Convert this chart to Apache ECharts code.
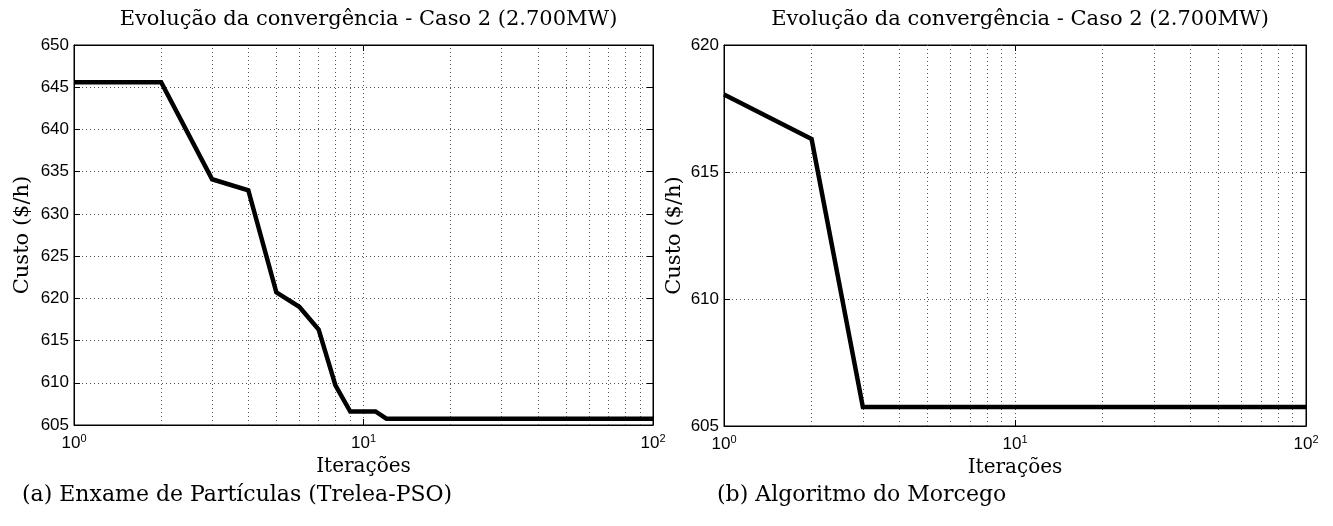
<!DOCTYPE html>
<html>
<head>
<meta charset="utf-8">
<script src="https://cdn.jsdelivr.net/npm/echarts@6/dist/echarts.min.js"></script>
<style>
  html, body { margin: 0; padding: 0; background: #fff; }
  #chart { width: 1333px; height: 526px; }
</style>
</head>
<body>
<div id="chart"></div>
<script>
// Convergence of cost per iteration (log-scaled iteration axis)
const chartTitle = 'Evolução da convergência - Caso 2 (2.700MW)';
const xName = 'Iterações';
const yName = 'Custo ($/h)';
const captions = ['(a) Enxame de Partículas (Trelea-PSO)', '(b) Algoritmo do Morcego'];

// (a) particle swarm: iteration numbers and best cost at each
const psoIter = [1, 2, 3, 4, 5, 6, 7, 8, 9, 10, 11, 12, 100];
const psoCost = [645.6, 645.6, 634.1, 632.8, 620.7, 619.0, 616.3, 609.7, 606.6, 606.6, 606.6, 605.75, 605.75];

// (b) bat algorithm
const batIter = [1, 2, 3, 100];
const batCost = [618.05, 616.3, 605.75, 605.75];

// y ranges of each panel
const yRanges = [[605, 650], [605, 620]];
const yStep = 5;

// minor decade positions for the dotted grid
const minorX = [2, 3, 4, 5, 6, 7, 8, 9, 20, 30, 40, 50, 60, 70, 80, 90];

const sansFont = 'Liberation Sans';
const serifFont = 'DejaVu Serif';

const grids = [
  { left: 74, top: 45, width: 579, height: 380 },
  { left: 724, top: 45, width: 582, height: 381 }
];
const captionX = [22, 717];

const dotted = { color: '#555', type: [1, 3], width: 1 };

function xAxes(i) {
  const common = {
    type: 'log', logBase: 10, min: 1, max: 100, gridIndex: i,
    axisLine: { show: true, lineStyle: { color: '#000', width: 1 } },
    axisTick: { show: true, inside: true, length: 6, lineStyle: { color: '#000' } },
    minorTick: { show: false },
    splitLine: { show: false }
  };
  return [
    Object.assign({}, common, {
      position: 'bottom',
      name: xName, nameLocation: 'middle', nameGap: 25,
      nameTextStyle: { fontFamily: serifFont, fontSize: 20, color: '#000' },
      splitLine: { show: true, lineStyle: dotted },
      axisLabel: {
        margin: 8,
        formatter: v => '10{s|' + Math.round(Math.log10(v)) + '}',
        fontFamily: sansFont, fontSize: 17, color: '#000',
        rich: { s: { fontFamily: sansFont, fontSize: 11, color: '#000', verticalAlign: 'top', padding: [0, 0, 10, 0] } }
      }
    }),
    Object.assign({}, common, { position: 'top', axisLabel: { show: false } })
  ];
}

function yAxes(i) {
  const common = {
    type: 'value', gridIndex: i, min: yRanges[i][0], max: yRanges[i][1], interval: yStep,
    axisLine: { show: true, lineStyle: { color: '#000', width: 1 } },
    axisTick: { show: true, inside: true, length: 6, lineStyle: { color: '#000' } },
    splitLine: { show: false }
  };
  return [
    Object.assign({}, common, {
      position: 'left',
      name: yName, nameLocation: 'middle', nameGap: i === 0 ? 41 : 39, nameRotate: 90,
      nameTextStyle: { fontFamily: serifFont, fontSize: 21, color: '#000' },
      splitLine: { show: true, lineStyle: dotted },
      axisLabel: { margin: 5, fontFamily: sansFont, fontSize: 17, color: '#000' }
    }),
    Object.assign({}, common, { position: 'right', axisLabel: { show: false } })
  ];
}

function lineSeries(i, xs, ys) {
  return {
    type: 'line', xAxisIndex: i * 2, yAxisIndex: i * 2,
    data: xs.map((x, k) => [x, ys[k]]),
    showSymbol: false, symbol: 'none',
    lineStyle: { color: '#000', width: 4.5, join: 'miter' },
    z: 5,
    markLine: {
      silent: true, symbol: 'none', animation: false,
      label: { show: false },
      lineStyle: dotted,
      data: minorX.map(v => ({ xAxis: v }))
    }
  };
}

const option = {
  animation: false,
  backgroundColor: '#fff',
  title: grids.map(g => ({
    text: chartTitle,
    left: g.left + g.width / 2, top: 4, textAlign: 'center',
    textStyle: { fontFamily: serifFont, fontSize: 21, fontWeight: 'normal', color: '#000' }
  })),
  grid: grids.map(g => Object.assign({ show: true, borderColor: '#000', borderWidth: 1, containLabel: false }, g)),
  xAxis: [...xAxes(0), ...xAxes(1)],
  yAxis: [...yAxes(0), ...yAxes(1)],
  series: [lineSeries(0, psoIter, psoCost), lineSeries(1, batIter, batCost)],
  graphic: captions.map((c, i) => ({
    type: 'text', x: captionX[i], y: 484,
    style: { text: c, fontFamily: serifFont, fontSize: 22, fill: '#000' }
  }))
};

const chart = echarts.init(document.getElementById('chart'), null, { renderer: 'canvas' });
chart.setOption(option);
</script>
</body>
</html>
